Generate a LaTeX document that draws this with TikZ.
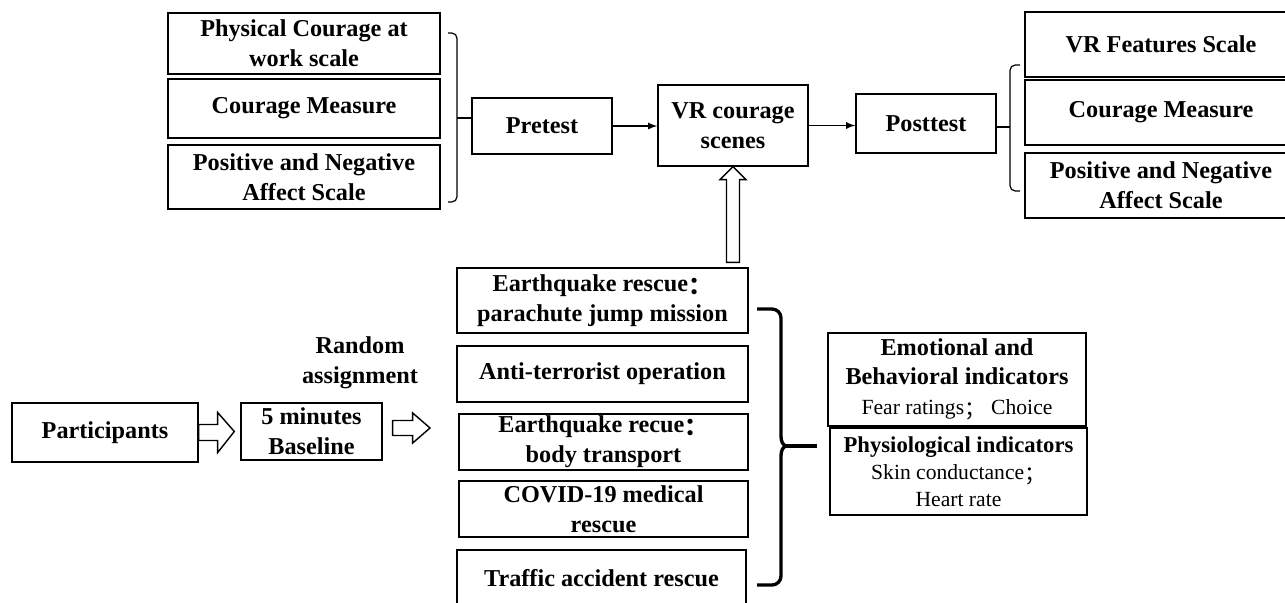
\documentclass[tikz,border=0pt]{standalone}
\usepackage{fontspec}
\setmainfont{Liberation Serif}
\newfontfamily\cjk{Noto Sans CJK SC}
\usepackage{tikz}
\tikzstyle{box}          = [draw,line width=0.8pt,align=center,inner sep=0pt,font=\fontsize{13.8}{17}\selectfont\bfseries]
\tikzstyle{hollow arrow} = [draw,line width=0.8pt,fill=white]
\tikzstyle{bracket}      = [line width=0.7pt,rounded corners=3]
\usetikzlibrary{calc}
\newcommand{\fw}[1]{\raisebox{-1.5pt}{\cjk #1}}

\begin{document}
\begin{tikzpicture}[x=0.02cm,y=-0.02cm,font=\fontsize{13.8}{17}\selectfont]

    \useasboundingbox (0,0) rectangle (1285,602);
    \clip (0,0) rectangle (1285,602);

    % pretest scales
    \node(a1)[box,minimum width=5.44cm,minimum height=1.22cm] at (304,43.5) {Physical Courage at\\work scale};
    \node(a2)[box,minimum width=5.44cm,minimum height=1.18cm] at (304,108.5) {Courage Measure};
    \node(a3)[box,minimum width=5.44cm,minimum height=1.28cm] at (304,177) {Positive and Negative\\Affect Scale};

    % main line
    \node(pre)[box,minimum width=2.8cm,minimum height=1.12cm] at (542,126) {Pretest};
    \node(vr)[box,minimum width=3cm,minimum height=1.62cm] at (733,125.5) {VR courage\\scenes};
    \node(post)[box,minimum width=2.8cm,minimum height=1.18cm] at (926,123.5) {Posttest};

    % posttest scales
    \node(b1)[box,minimum width=5.44cm,minimum height=1.3cm] at (1161,44.5) {VR Features Scale};
    \node(b2)[box,minimum width=5.44cm,minimum height=1.3cm] at (1161,112.5) {Courage Measure};
    \node(b3)[box,minimum width=5.44cm,minimum height=1.3cm] at (1161,185.5) {Positive and Negative\\Affect Scale};

    % left bracket to pretest
    \draw[bracket] (448,33) -| (457,202) -- (448,202);
    \coordinate(lb) at (457,118);
    \draw[line width=0.7pt] (lb) -- (pre.west |- lb);

    % right bracket from posttest
    \draw[bracket] (1020,65) -| (1010,191) -- (1020,191);
    \coordinate(rb) at (1010,127);
    \draw[line width=0.7pt] (post.east |- rb) -- (rb);

    \draw[->,>=latex,line width=0.8pt] (pre.east) -- (pre.east -| vr.west);
    \draw[->,>=latex,line width=0.8pt] (vr.east) -- (vr.east -| post.west);

    % participants and baseline
    \node(part)[box,minimum width=3.72cm,minimum height=1.18cm] at (105,432.5) {Participants};
    \node(base)[box,minimum width=2.82cm,minimum height=1.14cm] at (311.5,431.5) {5 minutes\\Baseline};
    \node(rand)[align=center,font=\fontsize{13.8}{17}\selectfont\bfseries] at (360,363) {Random\\assignment};

    % VR scenes
    \node(s1)[box,minimum width=5.82cm,minimum height=1.3cm] at (602.5,300.5) {Earthquake rescue\fw{：}\\parachute jump mission};
    \node(s2)[box,minimum width=5.82cm,minimum height=1.12cm] at (602.5,374) {Anti-terrorist operation};
    \node(s3)[box,minimum width=5.78cm,minimum height=1.12cm] at (603.5,442) {Earthquake recue\fw{：}\\body transport};
    \node(s4)[box,minimum width=5.78cm,minimum height=1.12cm] at (603.5,509) {COVID-19 medical\\rescue};
    \node(s5)[box,minimum width=5.78cm,minimum height=1.12cm] at (601.5,578) {Traffic accident rescue};

    % indicators
    \node(e1)[box,minimum width=5.16cm,minimum height=1.86cm,font=\fontsize{13.8}{16.7}\selectfont] at (957,379.5)
        {\bfseries Emotional and\\\bfseries Behavioral indicators\\\mdseries\fontsize{12.3}{16.7}\selectfont Fear ratings\fw{；}\ Choice};
    \node(e2)[box,minimum width=5.14cm,minimum height=1.74cm,font=\fontsize{12.9}{15.3}\selectfont] at (958.5,471.5)
        {\bfseries Physiological indicators\\\mdseries\fontsize{12.3}{15.3}\selectfont Skin conductance\fw{；}\\\mdseries\fontsize{12.3}{15.3}\selectfont Heart rate};

    % hollow arrows
    \draw[hollow arrow] ($(part.east)+(0,-8)$) -- ++(19,0) -- ++(0,-12) -- ($(base.west)+(-6,0)$)
        -- ($(part.east)+(19,20)$) -- ++(0,-12) -- ($(part.east)+(0,8)$) -- cycle;
    \coordinate(ra) at (430,428);
    \draw[hollow arrow] ($(base.east)+(10,-11)$) -- ++(20,0) -- ++(0,-7.5) -- (ra)
        -- ($(base.east)+(30,11.5)$) -- ++(0,-7.5) -- ($(base.east)+(10,4)$) -- cycle;
    \coordinate(up) at ($(vr.south |- s1.north)+(0,-5)$);
    \draw[hollow arrow] (vr.south) -- ++(13,13) -- ++(-6.5,0) -- ($(up)+(6.5,0)$)
        -- ($(up)+(-6.5,0)$) -- ($(vr.south)+(-6.5,13)$) -- ++(-6.5,0) -- cycle;

    % brace to indicators
    \draw[line width=1.9pt] (757,309) -- (772,309) to[out=0,in=90] (781,318) -- (781,436)
        to[out=-90,in=180] (787,446) to[out=180,in=90] (781,456) -- (781,576)
        to[out=-90,in=0] (772,585) -- (757,585);
    \coordinate(bt) at (787,446);
    \coordinate(be) at (817,446);
    \draw[line width=1.9pt] (bt) -- (be);

\end{tikzpicture}
\end{document}
